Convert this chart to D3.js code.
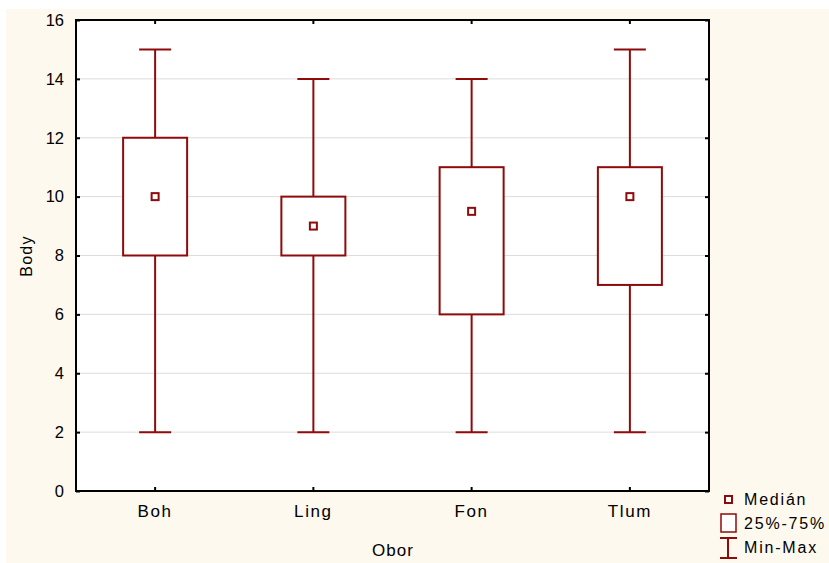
<!DOCTYPE html>
<html>
<head>
<meta charset="utf-8">
<script src="https://cdn.jsdelivr.net/npm/d3@7"></script>
<style>
  html, body { margin: 0; padding: 0; background: #ffffff; }
  svg { display: block; font-family: "Liberation Sans", Arial, sans-serif; }
</style>
</head>
<body>
<svg id="chart" width="829" height="563"></svg>
<script>
// Box plot data per field of study
const categories = ["Boh", "Ling", "Fon", "Tlum"];
const minValues = [2, 2, 2, 2];
const q1Values = [8, 8, 6, 7];
const medianValues = [10, 9, 9.5, 10];
const q3Values = [12, 10, 11, 11];
const maxValues = [15, 14, 14, 15];
const yTicks = [0, 2, 4, 6, 8, 10, 12, 14, 16];
const legendLabels = ["Medián", "25%-75%", "Min-Max"];

const dark = "#8f0a0a";
const svg = d3.select("#chart");

// cream canvas
svg.append("rect").attr("x", 6).attr("y", 9).attr("width", 823).attr("height", 554).attr("fill", "#fdf9ee");

const plotL = 76, plotR = 709, plotT = 20, plotB = 491;
const x = d3.scaleBand().domain(categories).range([plotL, plotR]);
const y = d3.scaleLinear().domain([0, 16]).range([plotB, plotT]);

svg.append("rect").attr("x", plotL).attr("y", plotT).attr("width", plotR - plotL).attr("height", plotB - plotT).attr("fill", "#ffffff");

// gridlines
svg.append("g").selectAll("line").data(yTicks.slice(1, -1)).join("line")
  .attr("x1", plotL).attr("x2", plotR)
  .attr("y1", d => y(d)).attr("y2", d => y(d))
  .attr("stroke", "#dcdcdc").attr("stroke-width", 1);

// axes
const yAxis = svg.append("g").attr("transform", `translate(${plotL},0)`)
  .call(d3.axisLeft(y).tickValues(yTicks).tickSize(-4).tickPadding(12));
const yAxisR = svg.append("g").attr("transform", `translate(${plotR},0)`)
  .call(d3.axisRight(y).tickValues(yTicks).tickSize(-4).tickFormat(""));
const xAxis = svg.append("g").attr("transform", `translate(0,${plotB})`)
  .call(d3.axisBottom(x).tickSize(-4).tickPadding(14));
const xAxisT = svg.append("g").attr("transform", `translate(0,${plotT})`)
  .call(d3.axisTop(x).tickSize(-4).tickFormat(""));
[yAxis, yAxisR, xAxis, xAxisT].forEach(g => {
  g.select(".domain").attr("stroke", "#000").attr("stroke-width", 2);
  g.selectAll(".tick line").attr("stroke", "#000").attr("stroke-width", 2);
  g.selectAll("text").attr("fill", "#000").style("font-size", "16.5px")
    .style("font-family", '"Liberation Sans", Arial, sans-serif');
});
yAxis.select(".domain").attr("d", `M0,${plotT}V${plotB}`);
yAxisR.select(".domain").attr("d", `M0,${plotT}V${plotB}`);
xAxis.select(".domain").attr("d", `M${plotL - 1},0H${plotR + 1}`);
xAxisT.select(".domain").attr("d", `M${plotL - 1},0H${plotR + 1}`);
xAxis.selectAll("text").attr("dy", "0.71em").style("font-size", "17px").style("letter-spacing", "1.6px");

// axis titles
svg.append("text").attr("transform", "translate(32,256) rotate(-90)")
  .attr("text-anchor", "middle").style("font-size", "16px").style("letter-spacing", "1.2px").text("Body");
svg.append("text").attr("x", 393).attr("y", 556)
  .attr("text-anchor", "middle").style("font-size", "17px").style("letter-spacing", "1px").text("Obor");

// boxes
const boxW = 64, capW = 32, medS = 7;
const g = svg.append("g").selectAll("g").data(categories).join("g")
  .attr("transform", d => `translate(${x(d) + x.bandwidth() / 2},0)`);
g.append("line").attr("x1", 0).attr("x2", 0)
  .attr("y1", (d, i) => y(maxValues[i])).attr("y2", (d, i) => y(q3Values[i]))
  .attr("stroke", dark).attr("stroke-width", 2);
g.append("line").attr("x1", 0).attr("x2", 0)
  .attr("y1", (d, i) => y(q1Values[i])).attr("y2", (d, i) => y(minValues[i]))
  .attr("stroke", dark).attr("stroke-width", 2);
g.append("line").attr("x1", -capW / 2).attr("x2", capW / 2)
  .attr("y1", (d, i) => y(maxValues[i])).attr("y2", (d, i) => y(maxValues[i]))
  .attr("stroke", dark).attr("stroke-width", 2);
g.append("line").attr("x1", -capW / 2).attr("x2", capW / 2)
  .attr("y1", (d, i) => y(minValues[i])).attr("y2", (d, i) => y(minValues[i]))
  .attr("stroke", dark).attr("stroke-width", 2);
g.append("rect").attr("x", -boxW / 2).attr("width", boxW)
  .attr("y", (d, i) => y(q3Values[i]))
  .attr("height", (d, i) => y(q1Values[i]) - y(q3Values[i]))
  .attr("fill", "#ffffff").attr("stroke", dark).attr("stroke-width", 2);
g.append("rect").attr("x", -medS / 2).attr("width", medS)
  .attr("y", (d, i) => y(medianValues[i]) - medS / 2).attr("height", medS)
  .attr("fill", "#ffffff").attr("stroke", dark).attr("stroke-width", 2);

// legend
const lg = svg.append("g");
lg.append("rect").attr("x", 725).attr("y", 496).attr("width", 7).attr("height", 7)
  .attr("fill", "#fff").attr("stroke", dark).attr("stroke-width", 2);
lg.append("rect").attr("x", 721).attr("y", 514).attr("width", 15).attr("height", 18)
  .attr("fill", "#fff").attr("stroke", dark).attr("stroke-width", 1.5);
lg.append("line").attr("x1", 728).attr("x2", 728).attr("y1", 538).attr("y2", 558).attr("stroke", dark).attr("stroke-width", 2);
lg.append("line").attr("x1", 720).attr("x2", 737).attr("y1", 538).attr("y2", 538).attr("stroke", dark).attr("stroke-width", 2);
lg.append("line").attr("x1", 720).attr("x2", 737).attr("y1", 558).attr("y2", 558).attr("stroke", dark).attr("stroke-width", 2);
lg.selectAll("text").data(legendLabels).join("text")
  .attr("x", 744).attr("y", (d, i) => 505 + i * 24)
  .style("font-size", "16px").style("letter-spacing", "1.8px").text(d => d);
</script>
</body>
</html>
